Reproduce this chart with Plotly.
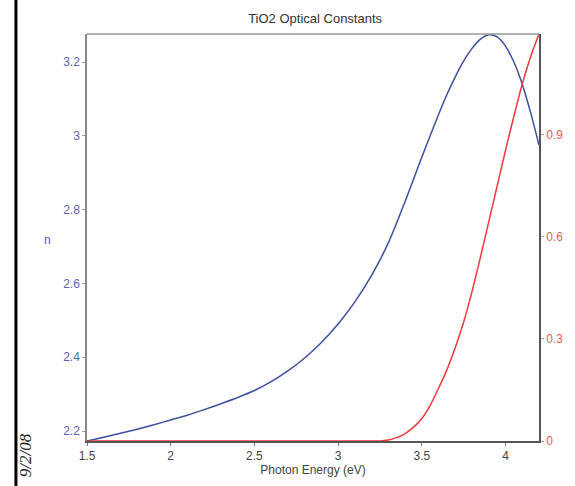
import plotly.graph_objects as go

# Photon energy grid (eV) for the refractive index
energy_n = [1.5, 1.6, 1.7, 1.8, 1.9, 2.0, 2.1, 2.2, 2.3, 2.4, 2.5, 2.6, 2.7, 2.8,
            2.9, 3.0, 3.1, 3.2, 3.3, 3.4, 3.5, 3.6, 3.65, 3.7, 3.75, 3.8, 3.85,
            3.9, 3.95, 4.0, 4.05, 4.1, 4.15, 4.2]
# Refractive index n
n_vals = [2.173, 2.183, 2.194, 2.205, 2.217, 2.23, 2.243, 2.258, 2.274, 2.291,
          2.31, 2.334, 2.363, 2.398, 2.44, 2.49, 2.55, 2.622, 2.71, 2.822,
          2.942, 3.058, 3.112, 3.16, 3.203, 3.237, 3.262, 3.274, 3.268, 3.243,
          3.20, 3.14, 3.063, 2.975]

# Photon energy grid (eV) for the extinction coefficient
energy_k = [1.5, 2.0, 2.5, 3.0, 3.2, 3.25, 3.3, 3.35, 3.4, 3.45, 3.5, 3.55, 3.6,
            3.65, 3.7, 3.75, 3.8, 3.85, 3.9, 3.95, 4.0, 4.05, 4.1, 4.15, 4.2]
# Extinction coefficient k
k_vals = [0, 0, 0, 0, 0, 0, 0.003, 0.01, 0.022, 0.04, 0.066, 0.105, 0.155,
          0.21, 0.275, 0.35, 0.44, 0.54, 0.645, 0.75, 0.855, 0.955, 1.05,
          1.13, 1.197]

n_ticks = [2.2, 2.4, 2.6, 2.8, 3.0, 3.2]
n_labels = ["2.2", "2.4", "2.6", "2.8", "3", "3.2"]
k_ticks = [0, 0.3, 0.6, 0.9]
k_labels = ["0", "0.3", "0.6", "0.9"]
e_ticks = [1.5, 2, 2.5, 3, 3.5, 4]
e_labels = ["1.5", "2", "2.5", "3", "3.5", "4"]

BLUE = "#3d4f9f"
RED = "#f0393b"
TXT_BLUE = "#5b62b0"
TXT_RED = "#ef5a4e"

fig = go.Figure()
fig.add_trace(go.Scatter(x=energy_n, y=n_vals, mode="lines",
                         line=dict(color=BLUE, width=1.5, shape="spline", smoothing=0.8),
                         yaxis="y", showlegend=False))
fig.add_trace(go.Scatter(x=energy_k, y=k_vals, mode="lines",
                         line=dict(color=RED, width=1.5, shape="spline", smoothing=0.8),
                         yaxis="y2", showlegend=False))

fig.update_layout(
    width=575, height=486,
    margin=dict(l=87, r=32, t=34, b=42),
    paper_bgcolor="white", plot_bgcolor="white",
    font=dict(family="Liberation Sans, Arial, sans-serif", size=12, color="#444"),
    title=dict(text="TiO2 Optical Constants", x=0.548, xanchor="center", y=0.963, yanchor="middle",
               font=dict(size=13, color="#333")),
    xaxis=dict(range=[1.5, 4.2], tickvals=e_ticks, ticktext=e_labels, showgrid=False, zeroline=False,
               showline=True, linecolor="#555", linewidth=1.5, ticks="outside", ticklen=3, tickcolor="#777",
               tickfont=dict(size=12, color="#444"),
               title=dict(text="Photon Energy (eV)", font=dict(size=12, color="#444"), standoff=2)),
    yaxis=dict(range=[2.173, 3.276], tickvals=n_ticks, ticktext=n_labels, showgrid=False, zeroline=False,
               showline=True, linecolor="#888", linewidth=1.5, ticks="outside", ticklen=3, tickcolor="#99a",
               tickfont=dict(size=12, color=TXT_BLUE)),
    yaxis2=dict(range=[0, 1.197], tickvals=k_ticks, ticktext=k_labels, overlaying="y", side="right",
                showgrid=False, zeroline=False, showline=True, linecolor="#555", linewidth=1.5,
                ticks="outside", ticklen=3, tickcolor="#e88", tickfont=dict(size=12, color=TXT_RED)),
)

# left axis label, written upright
fig.add_annotation(text="n", xref="paper", yref="paper", x=-0.088, y=0.495, showarrow=False,
                   font=dict(size=12, color=TXT_BLUE), xanchor="center", yanchor="middle")

# top border of the plotting frame
fig.add_shape(type="line", xref="paper", yref="paper", x0=0, x1=1, y0=1, y1=1,
              line=dict(color="#999", width=1.5))

# page margin rule and date stamp at the left
fig.add_shape(type="line", xref="paper", yref="paper", x0=-0.1572, x1=-0.1572, y0=-0.12, y1=1.1,
              line=dict(color="black", width=3))
fig.add_annotation(text="<i>9/2/08</i>", xref="paper", yref="paper", x=-0.137, y=-0.035, textangle=-90,
                   showarrow=False, font=dict(family="Liberation Serif, Times New Roman, serif", size=17,
                                              color="#222"), xanchor="center", yanchor="middle")

fig.write_html("out.html")
